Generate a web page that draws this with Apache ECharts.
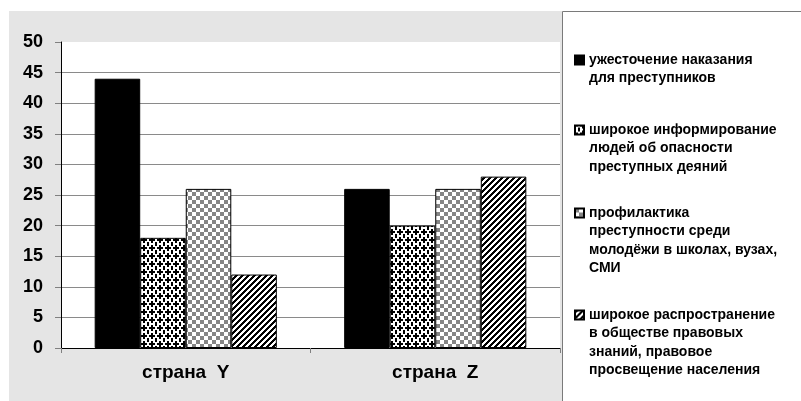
<!DOCTYPE html>
<html>
<head>
<meta charset="utf-8">
<script src="https://cdn.jsdelivr.net/npm/echarts@6/dist/echarts.min.js"></script>
<style>html,body{margin:0;padding:0;background:#fff}#c{width:801px;height:401px}</style>
</head>
<body>
<div id="c"></div>
<script>
// ---- data ----
var categories = ['страна  Y', 'страна  Z'];
var seriesNames = [
  'ужесточение наказания для преступников',
  'широкое информирование людей об опасности преступных деяний',
  'профилактика преступности среди молодёжи в школах, вузах, СМИ',
  'широкое распространение в обществе правовых знаний, правовое просвещение населения'
];
var legendLines = [
  ['ужесточение наказания', 'для преступников'],
  ['широкое информирование', 'людей об опасности', 'преступных деяний'],
  ['профилактика', 'преступности среди', 'молодёжи в школах, вузах,', 'СМИ'],
  ['широкое распространение', 'в обществе правовых', 'знаний, правовое', 'просвещение населения']
];
var values1 = [44, 26];
var values2 = [18, 20];
var values3 = [26, 26];
var values4 = [12, 28];
var yMin = 0, yMax = 50, yStep = 5;

// ---- patterns ----
function bitmapPattern(rows, fg, bg) {
  var h = rows.length, w = rows[0].length;
  var c = document.createElement('canvas');
  c.width = w; c.height = h;
  var g = c.getContext('2d');
  g.fillStyle = bg; g.fillRect(0, 0, w, h);
  g.fillStyle = fg;
  for (var y = 0; y < h; y++) for (var x = 0; x < w; x++) if (rows[y][x] === '1') g.fillRect(x, y, 1, 1);
  return { image: c, repeat: 'repeat' };
}
var patWeave = bitmapPattern([
  '11100111',
  '10000001',
  '10011001',
  '00011000',
  '00011000',
  '10011001',
  '10000001',
  '11100111'
], '#000', '#fff');
var patChecker = bitmapPattern([
  '11110000',
  '11110000',
  '11110000',
  '11110000',
  '00001111',
  '00001111',
  '00001111',
  '00001111'
], '#858585', '#fff');
var patDiag = bitmapPattern([
  '111000',
  '110001',
  '100011',
  '000111',
  '001110',
  '011100'
], '#000', '#fff');

var fills = ['#000', patWeave, patChecker, patDiag];
var allValues = [values1, values2, values3, values4];
var FONT = '"Liberation Sans", Arial, sans-serif';
var LH = 18.5;
var legendCenters = [60, 130, 213, 315];

var series = seriesNames.map(function (n, i) {
  return {
    name: n, type: 'bar', data: allValues[i],
    barGap: '0%', barCategoryGap: '27%',
    itemStyle: { color: fills[i], borderColor: '#000', borderWidth: 1 }
  };
});

var legends = seriesNames.map(function (n, i) {
  var k = legendLines[i].length;
  var pre = [];
  for (var j = 0; j < k - 1; j++) pre.push(' ');
  return {
    data: [n], orient: 'vertical', left: 574,
    top: legendCenters[i] - (2 * k - 1) * LH / 2,
    padding: 0, icon: 'rect', itemWidth: 9, itemHeight: 9,
    formatter: function () { return pre.concat(legendLines[i]).join('\n'); },
    textStyle: { fontFamily: FONT, fontWeight: 'bold', fontSize: 14, color: '#000', lineHeight: LH },
    selectedMode: false
  };
});

var gridColors = [];
for (var v = yMin; v <= yMax; v += yStep) gridColors.push(v === yMax ? '#fff' : '#8a8a8a');

var chart = echarts.init(document.getElementById('c'), null, { renderer: 'canvas' });
chart.setOption({
  animation: false,
  backgroundColor: '#fff',
  graphic: [
    { type: 'rect', z: -100, shape: { x: 9, y: 11, width: 553, height: 400 }, style: { fill: '#e5e5e5' } },
    { type: 'rect', z: -90, shape: { x: 562.5, y: 11.5, width: 260, height: 400 }, style: { fill: '#fff', stroke: '#7a7a7a', lineWidth: 1 } }
  ],
  grid: { left: 61, right: 241, top: 42, bottom: 53, show: true, backgroundColor: '#fff', borderWidth: 0 },
  legend: legends,
  xAxis: {
    type: 'category', data: categories,
    axisLine: { lineStyle: { color: '#000', width: 1 } },
    axisTick: { show: true, length: 5, lineStyle: { color: '#808080' } },
    axisLabel: { fontFamily: FONT, fontWeight: 'bold', fontSize: 19, color: '#000', margin: 15 }
  },
  yAxis: {
    type: 'value', min: yMin, max: yMax, interval: yStep,
    axisLine: { show: true, lineStyle: { color: '#000', width: 1 } },
    axisTick: { show: true, length: 6, lineStyle: { color: '#808080' } },
    splitLine: { show: true, lineStyle: { color: gridColors, width: 1 } },
    axisLabel: { fontFamily: FONT, fontWeight: 'bold', fontSize: 18, color: '#000', margin: 18 }
  },
  series: series
});
</script>
</body>
</html>
